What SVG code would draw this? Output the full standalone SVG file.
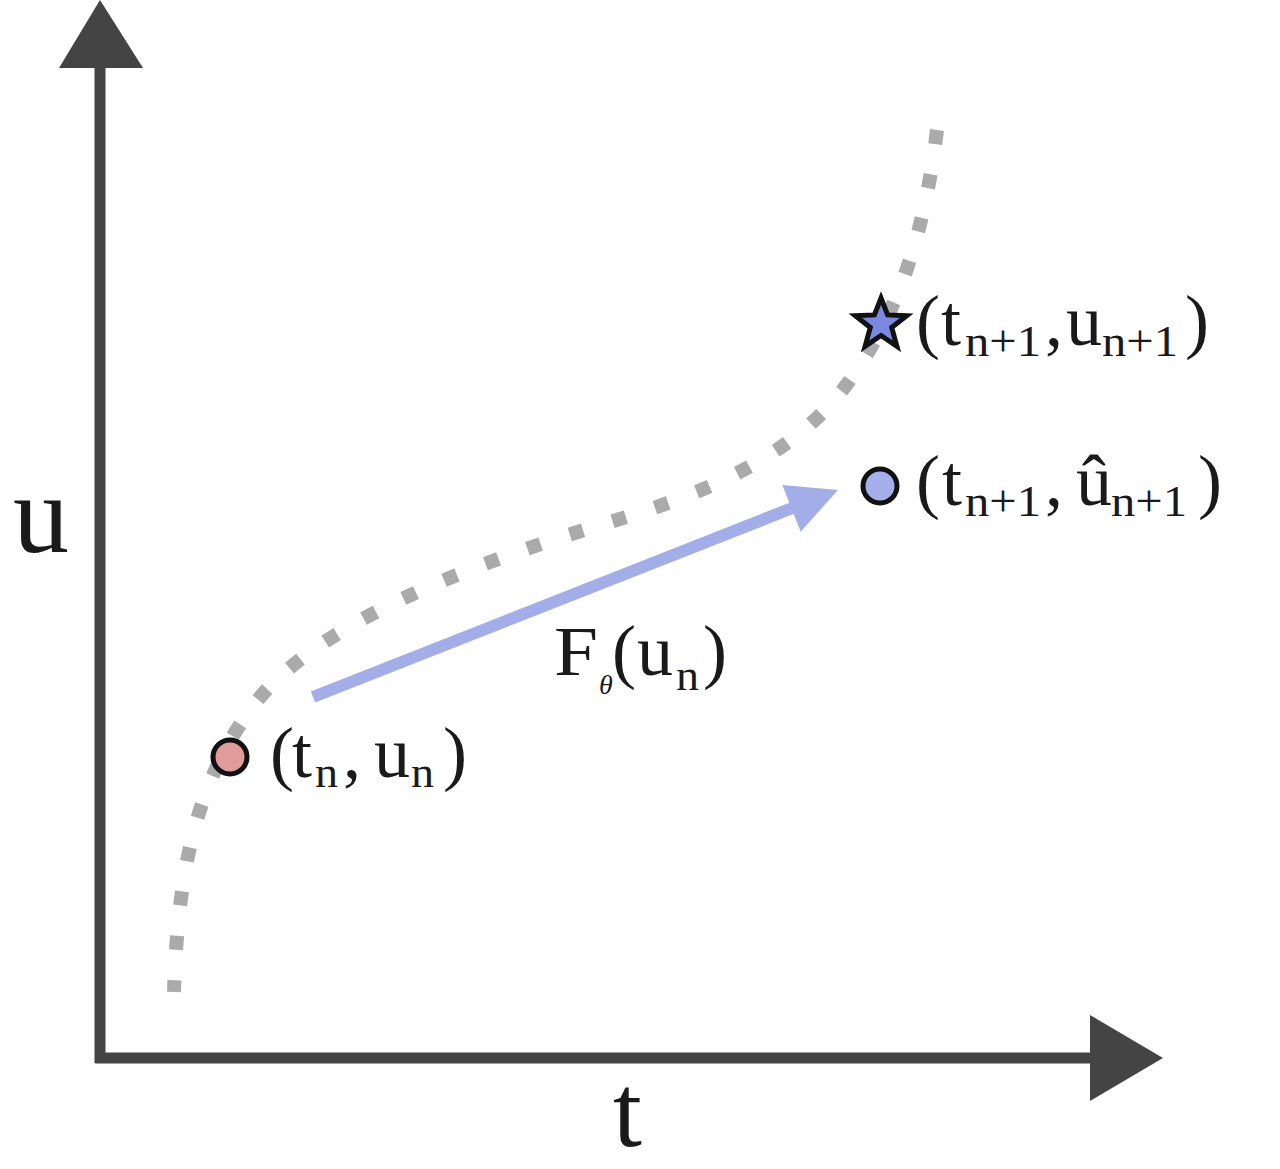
<svg xmlns="http://www.w3.org/2000/svg" width="1280" height="1169" viewBox="0 0 1280 1169">
<style>
.ax{stroke:#444;stroke-width:11;fill:none}
.ah{fill:#444}
.lbl{font-family:"Liberation Serif","DejaVu Serif",serif;fill:#1a1a1a}
.sub{font-size:45px}
.pt{stroke:#111;stroke-width:5}
</style>
<rect width="1280" height="1169" fill="#fff"/>
<g id="axes">
<line class="ax" x1="100" y1="60" x2="100" y2="1063"/>
<polygon class="ah" points="100,0 59,68 143,68"/>
<line class="ax" x1="95" y1="1058" x2="1100" y2="1058"/>
<polygon class="ah" points="1163,1058 1090,1015 1090,1101"/>
<text id="label-u" class="lbl" x="13" y="552" font-size="112">u</text>
<text id="label-t" class="lbl" x="613" y="1146" font-size="104">t</text>
</g>
<g id="connectors">
<path id="curve" d="M937,130 C925,230 900,310 850,380 C800,450 720,490 600,525 C420,580 300,640 250,710 C200,780 178,860 174,992" fill="none" stroke="#aaa" stroke-width="14" stroke-dasharray="14 30.6"/>
<line x1="313" y1="697" x2="800" y2="505" stroke="#a3aee8" stroke-width="12"/>
<polygon points="838,490 800.7,531.7 782.3,485.1" fill="#a3aee8"/>
</g>
<g id="node-tn">
<circle class="pt" cx="230" cy="757" r="17" fill="#e29b9b"/>
<text class="lbl" font-size="72" y="777"><tspan x="270">(</tspan><tspan x="292">t</tspan><tspan class="sub" x="315" y="787" textLength="23" lengthAdjust="spacingAndGlyphs">n</tspan><tspan x="343" y="777">,</tspan><tspan x="374">u</tspan><tspan class="sub" x="411" y="787" textLength="23" lengthAdjust="spacingAndGlyphs">n</tspan><tspan x="443" y="777">)</tspan></text>
</g>
<g id="node-pred">
<circle class="pt" cx="880" cy="486" r="17" fill="#a5b0ea"/>
<text class="lbl" font-size="72" y="505"><tspan x="916">(</tspan><tspan x="942">t</tspan><tspan class="sub" x="965" y="516" textLength="76" lengthAdjust="spacingAndGlyphs">n+1</tspan><tspan x="1045" y="505">,</tspan><tspan x="1076">û</tspan><tspan class="sub" x="1111" y="516" textLength="76" lengthAdjust="spacingAndGlyphs">n+1</tspan><tspan x="1198" y="505">)</tspan></text>
</g>
<g id="node-true">
<polygon class="pt" stroke-linejoin="miter" points="881,298 887.6,314.9 906.7,315.7 891.7,327.5 896.9,346.3 881,335.5 865.1,346.3 870.3,327.5 855.3,315.7 874.4,314.9" fill="#7b88e0"/>
<text class="lbl" font-size="72" y="345"><tspan x="916">(</tspan><tspan x="941">t</tspan><tspan class="sub" x="965" y="356" textLength="76" lengthAdjust="spacingAndGlyphs">n+1</tspan><tspan x="1045" y="345">,</tspan><tspan x="1066">u</tspan><tspan class="sub" x="1102" y="356" textLength="76" lengthAdjust="spacingAndGlyphs">n+1</tspan><tspan x="1185" y="345">)</tspan></text>
</g>
<g id="label-f">
<text class="lbl" font-size="70" y="675"><tspan x="554" textLength="44" lengthAdjust="spacingAndGlyphs">F</tspan><tspan x="599" y="694" font-size="28" font-style="italic">θ</tspan><tspan x="612" y="675" font-size="72">(</tspan><tspan x="637" font-size="72">u</tspan><tspan class="sub" x="676" y="690" textLength="23" lengthAdjust="spacingAndGlyphs">n</tspan><tspan x="703" y="675" font-size="72">)</tspan></text>
</g>
</svg>
